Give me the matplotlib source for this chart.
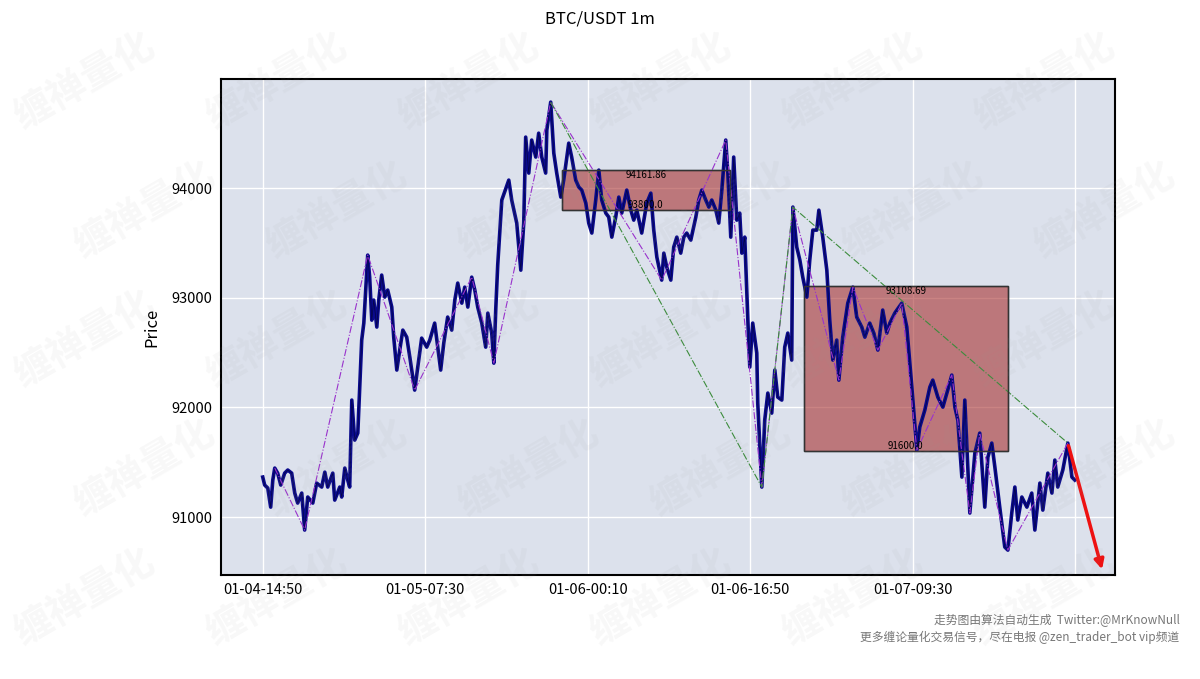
import matplotlib
matplotlib.use("Agg")
import matplotlib.pyplot as plt
from matplotlib.patches import Rectangle

plt.rcParams['font.family'] = ['Noto Sans CJK SC', 'DejaVu Sans']

# 1m bars, index = minutes since 01-04 14:50
bar_index = [0, 12, 31, 49, 62, 74, 92, 111, 135, 154, 178, 197, 215, 240, 258, 277, 308, 332, 363, 382,
             400, 431, 443, 474, 486, 505, 523, 535, 548, 566, 585, 609, 622, 646, 658, 671, 683, 702, 714, 732,
             751, 769, 794, 806, 825, 843, 862, 886, 905, 935, 954, 978, 1009, 1028, 1058, 1077, 1095, 1114, 1138, 1163,
             1182, 1200, 1225, 1243, 1262, 1286, 1305, 1323, 1348, 1372, 1385, 1409, 1422, 1434, 1446, 1471, 1514, 1532, 1563, 1588,
             1606, 1618, 1637, 1655, 1680, 1698, 1717, 1741, 1748, 1772, 1791, 1809, 1834, 1852, 1883, 1901, 1926, 1945, 1963, 1988,
             2006, 2025, 2049, 2068, 2086, 2111, 2129, 2148, 2172, 2191, 2209, 2240, 2265, 2283, 2302, 2332, 2363, 2388, 2406, 2425,
             2455, 2468, 2486, 2511, 2529, 2548, 2572, 2591, 2609, 2634, 2665, 2683, 2702, 2726, 2745, 2763, 2788, 2806, 2825, 2849,
             2862, 2880, 2898, 2917, 2935, 2948, 2966, 2985, 2997, 3015, 3040, 3046, 3071, 3089, 3108, 3132, 3151, 3169, 3194, 3212,
             3231, 3255, 3262, 3286, 3305, 3323, 3348, 3366, 3385, 3409, 3422, 3446, 3471, 3489, 3508, 3532, 3545, 3569, 3600, 3631,
             3655, 3686, 3705, 3735, 3760, 3785, 3815, 3840, 3859, 3889, 3932, 3963, 3994, 4025, 4043, 4074, 4105, 4123, 4154, 4185,
             4215, 4240, 4259, 4277, 4302, 4320, 4351, 4382, 4412, 4443, 4462, 4486, 4505, 4535, 4566, 4585, 4609, 4628, 4646, 4671,
             4702, 4732, 4751, 4782, 4800, 4831, 4856, 4874, 4892, 4923, 4954, 4979, 4997]
close_price = [91365, 91292, 91265, 91091, 91338, 91447, 91401, 91292, 91401, 91429, 91401, 91219, 91128, 91219, 90882, 91183, 91128, 91310, 91274, 91410,
               91274, 91401, 91155, 91274, 91183, 91447, 91338, 91274, 92067, 91702, 91766, 92614, 92769, 93389, 93188, 92796, 92979, 92733, 92979, 93207,
               93006, 93070, 92915, 92641, 92341, 92523, 92705, 92641, 92459, 92158, 92368, 92632, 92550, 92614, 92769, 92550, 92341, 92587, 92824, 92705,
               92979, 93134, 92951, 93097, 92915, 93188, 93070, 92915, 92769, 92550, 92860, 92678, 92404, 92900, 93300, 93891, 94073, 93891, 93681, 93252,
               93681, 94465, 94137, 94438, 94283, 94501, 94283, 94137, 94529, 94784, 94319, 94137, 93918, 94073, 94410, 94283, 94073, 94009, 93982, 93863,
               93681, 93590, 93891, 94164, 93891, 93772, 93736, 93553, 93736, 93918, 93772, 93982, 93799, 93708, 93799, 93590, 93863, 93954, 93617, 93371,
               93161, 93407, 93280, 93161, 93462, 93553, 93407, 93553, 93590, 93526, 93736, 93891, 93982, 93891, 93827, 93891, 93799, 93681, 93982, 94438,
               94137, 93553, 94283, 93708, 93772, 93407, 93553, 92796, 92368, 92769, 92496, 92040, 91274, 91885, 92131, 91948, 92341, 92094, 92067, 92550,
               92678, 92432, 93827, 93462, 93344, 93188, 93006, 93344, 93617, 93617, 93799, 93553, 93252, 92796, 92432, 92614, 92249, 92641, 92951, 93097,
               92824, 92733, 92641, 92769, 92678, 92523, 92888, 92678, 92769, 92860, 92951, 92733, 92186, 91611, 91821, 91976, 92186, 92249, 92094, 92003,
               92158, 92295, 92003, 91885, 91365, 92067, 91037, 91584, 91766, 91091, 91547, 91675, 91456, 91091, 90727, 90699, 91037, 91274, 90973, 91183,
               91091, 91219, 90882, 91310, 91064, 91401, 91219, 91520, 91274, 91429, 91675, 91365, 91338]

# bi (strokes)
bi_index = [74, 258, 646, 935, 1286, 1422, 1772, 2455, 2849, 3071, 3262, 3545, 3631, 3785, 3932, 4025, 4240, 4351, 4412, 4585, 4954]
bi_price = [91447, 90882, 93389, 92158, 93188, 92404, 94784, 93161, 94438, 91274, 93827, 92249, 93097, 92523, 92951, 91611, 92295, 91037, 91766, 90699, 91675]

# segments
seg_index = [1772, 3071, 3262, 4954]
seg_price = [94784, 91274, 93827, 91675]

# zhongshu boxes
zs_start = [1840, 3329]
zs_end = [2874, 4585]
zs_high = [94161.86, 93108.69]
zs_low = [93800.0, 91600.0]

arrow_from = (4954, 91675)
arrow_to = (5169, 90499)

tick_index = [0, 1000, 2000, 3000, 4000, 5000]
tick_labels = ["01-04-14:50", "01-05-07:30", "01-06-00:10", "01-06-16:50", "01-07-09:30", ""]
y_ticks = [91000, 92000, 93000, 94000]

fig = plt.figure(figsize=(12, 6.79), dpi=100)
fig.patch.set_facecolor("white")
ax = fig.add_axes([0.184, 0.153, 0.745, 0.7305])
ax.set_facecolor("#dce1ec")

ax.plot(bar_index, close_price, color="#0a0a8c", linewidth=2.6, zorder=3)
ax.plot(bar_index, close_price, color="black", linewidth=0.5, alpha=0.5, zorder=3)
ax.plot(bi_index, bi_price, color="#9932cc", linewidth=0.8, linestyle="-.", zorder=4)
ax.plot(seg_index, seg_price, color="#3c8c3c", linewidth=0.8, linestyle="-.", zorder=4)

for s, e, hi, lo in zip(zs_start, zs_end, zs_high, zs_low):
    ax.add_patch(Rectangle((s, lo), e - s, hi - lo, facecolor="#a52a2a", alpha=0.58,
                           edgecolor="black", linewidth=1, zorder=2))
    ax.add_patch(Rectangle((s, lo), e - s, hi - lo, facecolor="none",
                           edgecolor="#333333", linewidth=1, zorder=5))
    ax.text((s + e) / 2, hi, f"{hi}", fontsize=7, ha="center", va="top", zorder=6)
    ax.text((s + e) / 2, lo, f"{lo}", fontsize=7, ha="center", va="bottom", zorder=6)

ax.annotate("", xy=arrow_to, xytext=arrow_from,
            arrowprops=dict(arrowstyle="-|>", color="#ee1111", lw=2.5, mutation_scale=14), zorder=7)

ax.set_xlim(-258, 5243)
ax.set_ylim(90471, 94994)
ax.set_xticks(tick_index)
ax.set_xticklabels(tick_labels)
ax.set_yticks(y_ticks)
ax.tick_params(length=0, labelsize=10.5, pad=6)
ax.grid(True, color="white", linewidth=1.0)
ax.set_axisbelow(True)
for sp in ax.spines.values():
    sp.set_linewidth(1.5)
    sp.set_color("black")
ax.set_ylabel("Price", fontsize=12, labelpad=8)

fig.text(0.5, 0.985, "BTC/USDT 1m", ha="center", va="top", fontsize=12)

fig.text(0.983, 0.087, "走势图由算法自动生成  Twitter:@MrKnowNull", ha="right", va="center",
         fontsize=8.5, color="#777777")
fig.text(0.983, 0.062, "更多缠论量化交易信号，尽在电报 @zen_trader_bot vip频道", ha="right", va="center",
         fontsize=8.5, color="#777777")

# watermark, kept inside the figure
for row in range(5):
    for col in range(6):
        wx = 0.07 + col * 0.16 + (row % 2) * 0.05
        wy = 0.88 - row * 0.19
        fig.text(wx, wy, "缠禅量化", fontsize=28, fontweight="bold", color="#999999",
                 alpha=0.07, rotation=30, ha="center", va="center", zorder=20)

fig.savefig("out.png", dpi=100)
